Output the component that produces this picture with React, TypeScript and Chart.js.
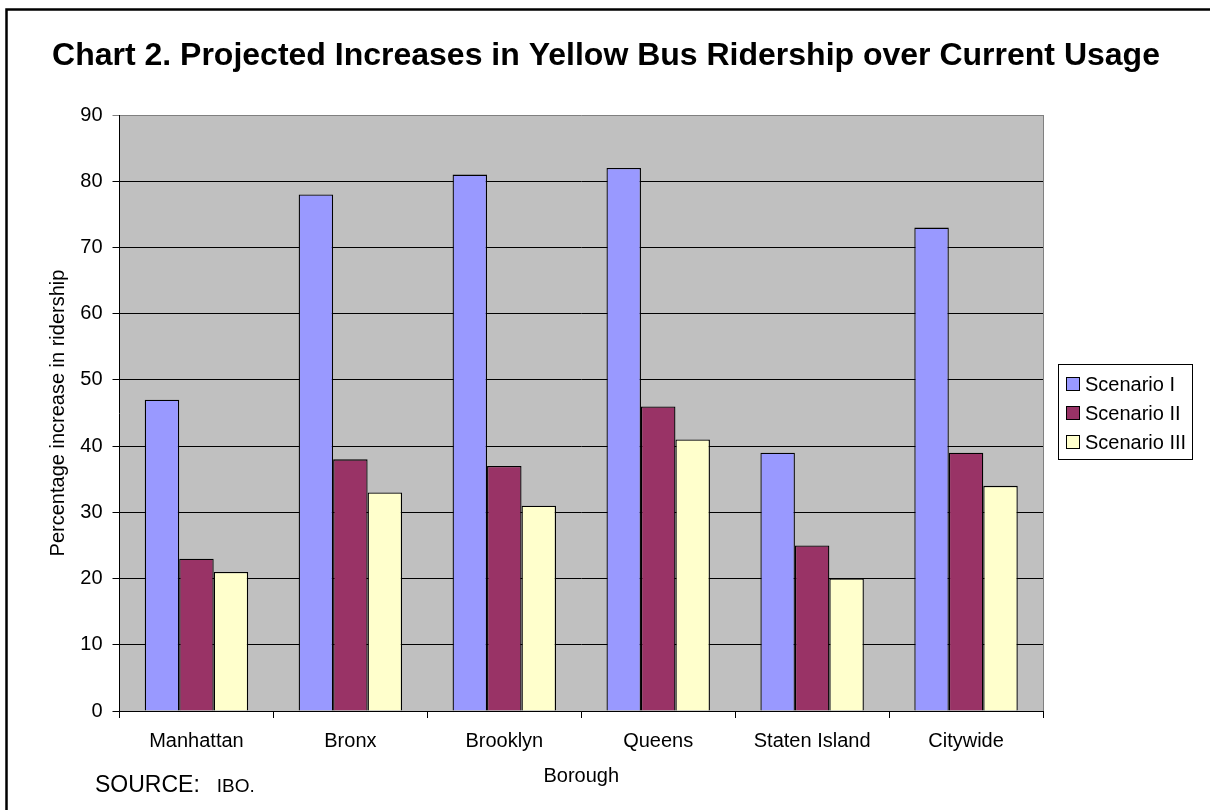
import React, { useEffect, useRef } from 'react';
import { Chart, registerables } from 'chart.js';

Chart.register(...registerables);

const categories = ['Manhattan', 'Bronx', 'Brooklyn', 'Queens', 'Staten Island', 'Citywide'];
const seriesNames = ['Scenario I', 'Scenario II', 'Scenario III'];
const scenarioI = [47, 78, 81, 82, 39, 73];
const scenarioII = [23, 38, 37, 46, 25, 39];
const scenarioIII = [21, 33, 31, 41, 20, 34];
const seriesColors = ['#9999FF', '#993366', '#FFFFCC'];
const yMin = 0;
const yMax = 90;
const yStep = 10;
const chartTitle = 'Chart 2. Projected Increases in Yellow Bus Ridership over Current Usage';
const xTitle = 'Borough';
const yTitle = 'Percentage increase in ridership';
const sourceLabel = 'SOURCE:';
const sourceOrg = 'IBO.';

const FONT = '"Liberation Sans", Arial, Helvetica, sans-serif';

const decorPlugin = {
  id: 'decor',
  beforeDraw(chart: any) {
    const { ctx, chartArea } = chart;
    ctx.save();
    ctx.fillStyle = '#FFFFFF';
    ctx.fillRect(0, 0, chart.width, chart.height);
    ctx.fillStyle = '#C0C0C0';
    ctx.fillRect(chartArea.left, chartArea.top, chartArea.right - chartArea.left, chartArea.bottom - chartArea.top);
    ctx.restore();
  },
  afterDraw(chart: any) {
    const { ctx, chartArea } = chart;
    ctx.save();
    // right edge of plot area
    ctx.strokeStyle = '#808080';
    ctx.lineWidth = 1;
    ctx.beginPath();
    ctx.moveTo(Math.round(chartArea.right) + 0.5, chartArea.top);
    ctx.lineTo(Math.round(chartArea.right) + 0.5, chartArea.bottom);
    ctx.stroke();

    // outer frame
    ctx.strokeStyle = '#000000';
    ctx.lineWidth = 2.5;
    ctx.strokeRect(6.5, 9.5, 1400, 1000);

    // title
    ctx.fillStyle = '#000000';
    ctx.font = `bold 32px ${FONT}`;
    ctx.textAlign = 'center';
    ctx.textBaseline = 'alphabetic';
    ctx.fillText(chartTitle, 606, 65);

    // source
    ctx.textAlign = 'left';
    ctx.font = `23px ${FONT}`;
    ctx.fillText(sourceLabel, 95, 792);
    const w = ctx.measureText(sourceLabel).width;
    ctx.font = `19px ${FONT}`;
    ctx.fillText(sourceOrg, 95 + w + 17, 792);

    // legend
    const lx = 1058.5, ly = 364.5, lw = 134, lh = 95;
    ctx.fillStyle = '#FFFFFF';
    ctx.fillRect(lx, ly, lw, lh);
    ctx.strokeStyle = '#000000';
    ctx.lineWidth = 1;
    ctx.strokeRect(lx, ly, lw, lh);
    ctx.font = `20px ${FONT}`;
    ctx.textBaseline = 'middle';
    chart.data.datasets.forEach((ds: any, i: number) => {
      const cy = 384 + i * 29;
      ctx.fillStyle = ds.backgroundColor;
      ctx.fillRect(1066.5, cy - 6.5, 13, 13);
      ctx.strokeStyle = '#000000';
      ctx.strokeRect(1066.5, cy - 6.5, 13, 13);
      ctx.fillStyle = '#000000';
      ctx.fillText(ds.label, 1085, cy + 1);
    });
    ctx.restore();
  },
};

export default function App() {
  const canvasRef = useRef<HTMLCanvasElement | null>(null);

  useEffect(() => {
    document.body.style.margin = '0';
    const canvas = canvasRef.current;
    if (!canvas) return;
    const data = [scenarioI, scenarioII, scenarioIII];
    const chart = new Chart(canvas, {
      type: 'bar',
      data: {
        labels: categories,
        datasets: seriesNames.map((name, i) => ({
          label: name,
          data: data[i],
          backgroundColor: seriesColors[i],
          borderColor: '#000000',
          borderWidth: 1.3,
          borderSkipped: 'bottom',
          categoryPercentage: 0.672,
          barPercentage: 1,
        })),
      },
      options: {
        responsive: false,
        animation: false,
        devicePixelRatio: 1,
        layout: { padding: { left: 0, top: 115, right: 167, bottom: 0 } },
        plugins: {
          legend: { display: false },
          title: { display: false },
          tooltip: { enabled: false },
        },
        scales: {
          x: {
            grid: {
              offset: true,
              drawOnChartArea: false,
              drawTicks: true,
              tickLength: 7,
              color: '#000000',
            },
            border: { color: '#000000', width: 1 },
            ticks: {
              color: '#000000',
              font: { family: FONT, size: 20 },
              padding: 11,
              maxRotation: 0,
              autoSkip: false,
            },
            title: {
              display: true,
              text: xTitle,
              color: '#000000',
              font: { family: FONT, size: 20 },
              padding: { top: 0, bottom: 22 },
            },
            afterFit(scale: any) {
              scale.height = 99;
            },
          },
          y: {
            min: yMin,
            max: yMax,
            ticks: {
              stepSize: yStep,
              color: '#000000',
              font: { family: FONT, size: 20 },
              padding: 10,
            },
            grid: {
              color: (c: any) => (c.tick && c.tick.value === yMax ? '#808080' : '#000000'),
              lineWidth: 1,
              tickLength: 7,
              drawTicks: true,
            },
            border: { color: '#000000', width: 1 },
            title: {
              display: true,
              text: yTitle,
              color: '#000000',
              font: { family: FONT, size: 20 },
              padding: { top: 46, bottom: 0 },
            },
            afterFit(scale: any) {
              scale.width = 119.5;
            },
          },
        },
      },
      plugins: [decorPlugin],
    });
    return () => chart.destroy();
  }, []);

  return (
    <div style={{ position: 'absolute', left: 0, top: 0, width: 1210, height: 810 }}>
      <canvas ref={canvasRef} width={1210} height={810} style={{ width: 1210, height: 810, display: 'block' }} />
    </div>
  );
}
